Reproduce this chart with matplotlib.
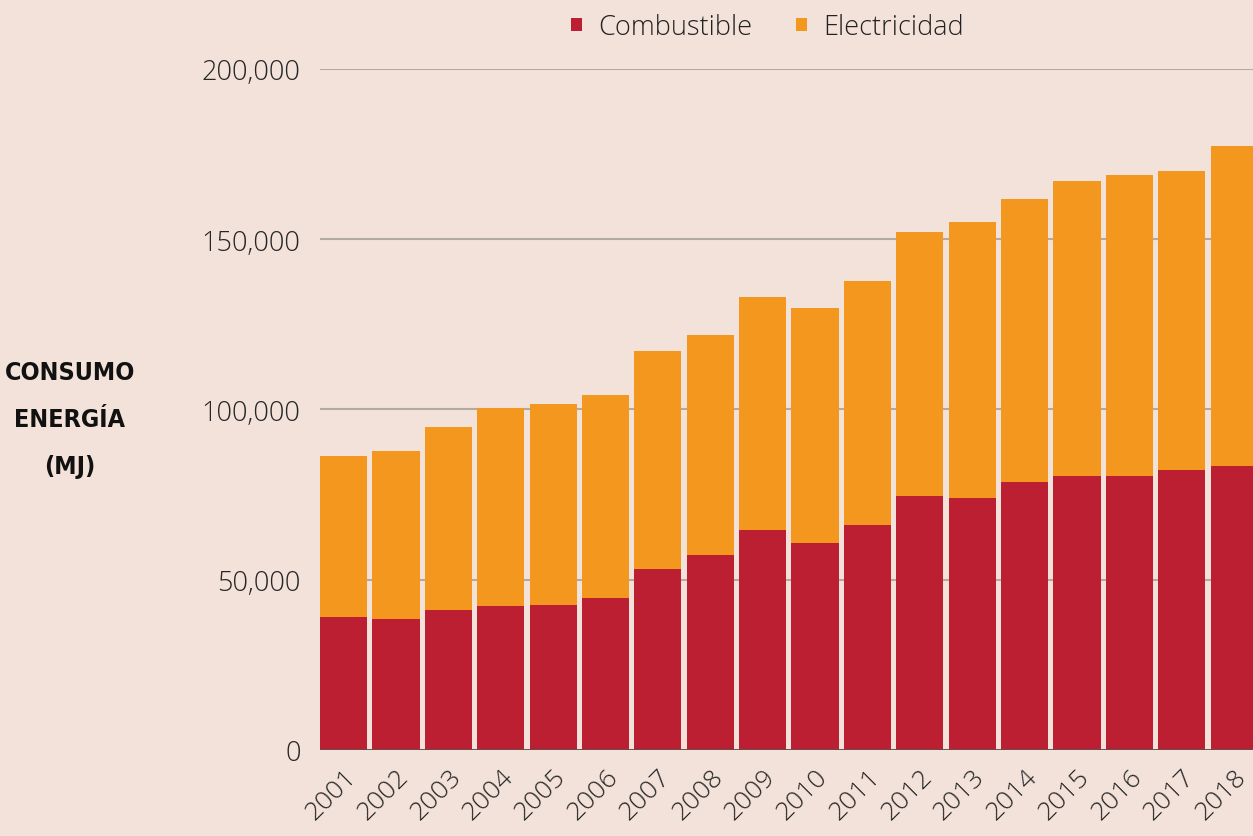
import matplotlib.pyplot as plt
from matplotlib.ticker import FuncFormatter

years = [str(y) for y in range(2001, 2019)]
combustible = [39000, 38500, 41100, 42300, 42600, 44600, 53200, 57300, 64600,
               60800, 66100, 74600, 74000, 78700, 80500, 80500, 82200, 83400]
total = [86300, 87800, 94900, 100400, 101600, 104300, 117200, 121900, 133000,
         129800, 137700, 152100, 155100, 161800, 167100, 168900, 170000, 177400]
electricidad = [t - c for t, c in zip(total, combustible)]

BG = '#F3E2D9'
RED = '#BB1F31'
ORANGE = '#F4971F'

plt.rcParams['font.family'] = ['Open Sans', 'DejaVu Sans']

fig = plt.figure(figsize=(12.53, 8.37), dpi=100, facecolor=BG)
ax = fig.add_axes([320 / 1253, 1 - 751 / 837, 1 - 320 / 1253, (751 - 70) / 837])
ax.set_facecolor(BG)

x = range(len(years))
ax.bar(x, combustible, width=0.9, color=RED, label='Combustible', zorder=3)
ax.bar(x, electricidad, width=0.9, bottom=combustible, color=ORANGE,
       label='Electricidad', zorder=3)

ax.set_ylim(0, 200000)
ax.set_xlim(-0.45, 17.36)
ax.set_yticks([0, 50000, 100000, 150000, 200000])
ax.yaxis.set_major_formatter(FuncFormatter(lambda v, p: '{:,.0f}'.format(v)))
ax.grid(axis='y', color='#B3AAA2', linewidth=1.5, zorder=1)
ax.axhline(0, color='#5A5550', linewidth=2, zorder=4)
ax.set_axisbelow(True)
for s in ax.spines.values():
    s.set_visible(False)

ax.set_xticks(list(x))
ax.set_xticklabels(years, rotation=45, ha='right', va='top',
                   rotation_mode='anchor', fontsize=19, color='#262626',
                   fontweight='light')
ax.tick_params(axis='x', length=0, pad=10)
ax.tick_params(axis='y', length=0, pad=14, labelsize=19.5, labelcolor='#262626')
for t in ax.get_yticklabels():
    t.set_fontweight('light')

leg = fig.legend(loc='upper center', bbox_to_anchor=(0.6125, 1.012), ncol=2,
                 frameon=False, fontsize=19.5, handlelength=0.4, handleheight=0.4,
                 columnspacing=1.6, handletextpad=0.6)
for t in leg.get_texts():
    t.set_color('#222222')
    t.set_fontweight('light')

fig.text(70 / 1253, 1 - 420 / 837, 'CONSUMO\nENERGÍA\n(MJ)', ha='center',
         va='center', fontsize=18, fontweight='bold', linespacing=2.2,
         color='#111111', fontstretch='condensed',
         family=['DejaVu Sans Condensed', 'DejaVu Sans'])

fig.savefig('out.png', dpi=100, facecolor=BG)
